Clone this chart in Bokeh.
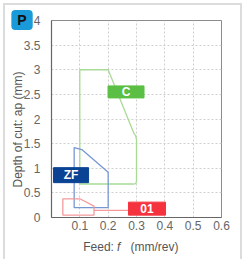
from bokeh.plotting import figure
from bokeh.models import FixedTicker, Label, ColumnDataSource
from bokeh.core.properties import value
from bokeh.embed import file_html
from bokeh.resources import INLINE
import math

# ---- data ----
x_ticks = [0.1, 0.2, 0.3, 0.4, 0.5, 0.6]
x_tick_labels = ["0.1", "0.2", "0.3", "0.4", "0.5", "0.6"]
y_ticks = [0, 0.5, 1, 1.5, 2, 2.5, 3, 3.5, 4]
y_tick_labels = ["0", "0.5", "1", "1.5", "2", "2.5", "3", "3.5", "4"]

c_feed = [0.1, 0.1, 0.2, 0.29, 0.297, 0.3, 0.3, 0.297, 0.29]
c_depth = [0.68, 3.0, 3.0, 1.72, 1.66, 1.58, 0.73, 0.69, 0.68]

zf_feed = [0.08, 0.08, 0.107, 0.2, 0.2]
zf_depth = [0.2, 1.42, 1.38, 0.92, 0.2]

r01_feed = [0.04, 0.04, 0.1, 0.15, 0.15]
r01_depth = [0.05, 0.38, 0.38, 0.23, 0.05]
r01_tail_feed = [0.15, 0.33]
r01_tail_depth = [0.145, 0.145]

grade_names = ["C", "ZF", "01"]
grade_feed = [0.263, 0.069, 0.337]
grade_depth = [2.55, 0.86, 0.18]
grade_colors = ["#5cbf45", "#0b4394", "#f5333f"]
grade_w = [36, 35, 37]
grade_h = [12, 15, 13]

FONT = "Liberation Sans"
TITLE_C = "#555555"

p = figure(width=246, height=259, x_range=(0, 0.6), y_range=(0, 4),
           output_backend="svg", toolbar_location=None,
           min_border_left=51, min_border_right=25,
           min_border_top=20, min_border_bottom=42)
p.background_fill_color = "white"
p.border_fill_color = None
g = "linear-gradient(#dcdcdc,#dcdcdc)"
p.styles = {"background": (f"{g} 3px 3px / 2px 256px no-repeat, "
                           f"{g} 3px 3px / 239px 2px no-repeat, "
                           f"{g} 240px 3px / 2px 256px no-repeat, white")}
p.outline_line_color = "#8c8c8c"
p.outline_line_width = 1

# axes
for ax in (p.xaxis, p.yaxis):
    ax.axis_line_color = "#666666"
    ax.axis_line_width = 1.2
    ax.major_tick_line_color = None
    ax.minor_tick_line_color = None
    ax.major_tick_out = 0
    ax.major_tick_in = 0
    ax.minor_tick_out = 0
    ax.minor_tick_in = 0
    ax.major_label_text_color = "#666666"
    ax.major_label_text_font = FONT
    ax.major_label_text_font_size = "12px"
p.xaxis.ticker = FixedTicker(ticks=x_ticks)
p.xaxis.major_label_overrides = {t: s for t, s in zip(x_ticks, x_tick_labels)}
p.xaxis.major_label_standoff = 3
p.yaxis.ticker = FixedTicker(ticks=y_ticks)
p.yaxis.major_label_overrides = {t: s for t, s in zip(y_ticks, y_tick_labels)}
p.yaxis.major_label_standoff = 11
p.yaxis.major_label_text_align = "center"

# grid
p.xgrid.ticker = FixedTicker(ticks=x_ticks[:-1])
p.ygrid.ticker = FixedTicker(ticks=y_ticks[1:-1])
for gr in (p.xgrid, p.ygrid):
    gr.grid_line_color = "#cfcfcf"
    gr.grid_line_dash = "2 2"
    gr.grid_line_width = 1

# regions
p.patch(c_feed, c_depth, fill_alpha=0, line_color="#a8db95", line_width=1.3)
p.patch(zf_feed, zf_depth, fill_alpha=0, line_color="#7797d4", line_width=1.3)
p.patch(r01_feed, r01_depth, fill_alpha=0, line_color="#f49a9d", line_width=1.3)
p.line(r01_tail_feed, r01_tail_depth, line_color="#f49a9d", line_width=1.3)

gsrc = ColumnDataSource(dict(x=grade_feed, y=grade_depth, c=grade_colors,
                             w=grade_w, h=grade_h, t=grade_names))
p.rect(x="x", y="y", width="w", height="h", width_units="screen", height_units="screen",
       fill_color="c", line_color="c", source=gsrc)
p.text(x="x", y="y", text="t", source=gsrc, text_align="center", text_baseline="middle",
       text_color="white", text_font=value(FONT), text_font_style="bold",
       text_font_size="12px")

def title_piece(txt, xd, yd, style, angle=0.0):
    return Label(x=xd, y=yd, text=txt, angle=angle,
                 text_align="left" if angle == 0 else "center",
                 text_baseline="middle", text_font=FONT,
                 text_font_size="12px", text_font_style=style, text_color=TITLE_C)

# axis titles, placed in side slots so they are not clipped
p.add_layout(title_piece("Feed:", 0.112, -0.589, "normal"), "below")
p.add_layout(title_piece("(mm/rev)", 0.279, -0.589, "normal"), "above")
p.add_layout(title_piece("f", 0.231, -0.589, "italic"), "left")
p.add_layout(title_piece("Depth of cut: ap (mm)", -0.1165, 1.787, "normal",
                         angle=math.pi / 2), "left")

# badge
p.add_layout(Label(x=-0.104, y=4.01, text="P",
                   text_align="center", text_baseline="middle",
                   text_font=FONT, text_font_size="14px", text_font_style="bold",
                   text_color="#111111", background_fill_color="#1a9ad8",
                   border_radius=4, padding=(6, 2)), "right")

open("out.html", "w").write(file_html(p, INLINE))
